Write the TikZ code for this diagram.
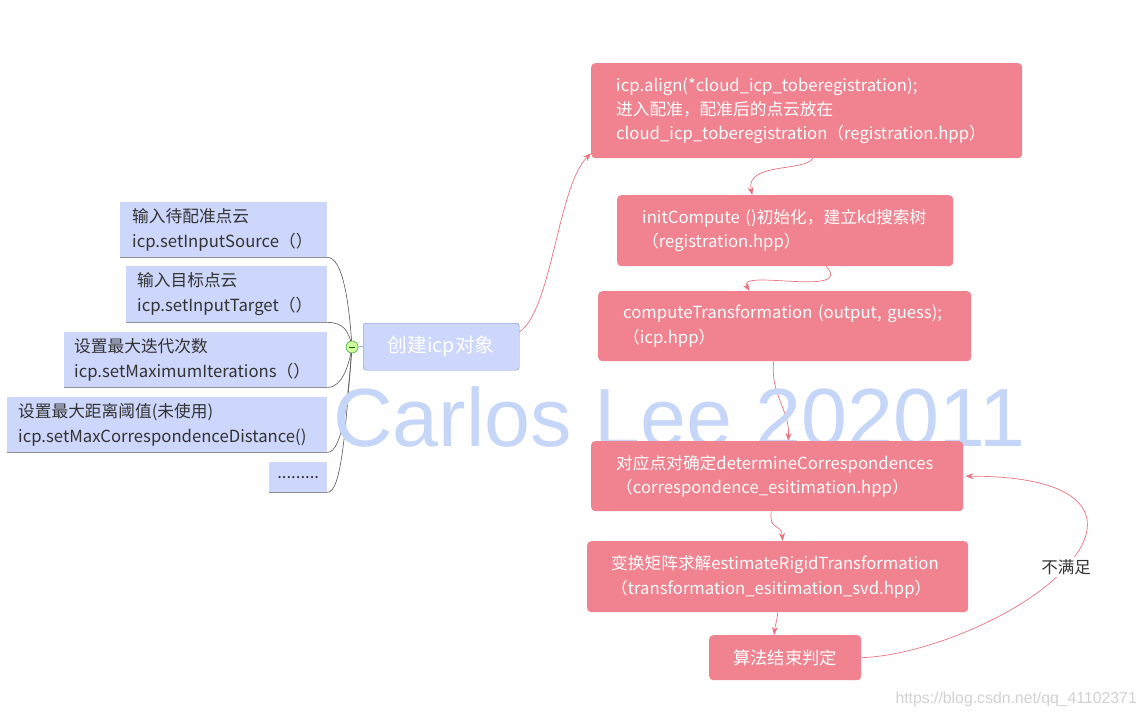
\documentclass[tikz,border=0pt]{standalone}
\usepackage{fontspec}
\setmainfont{Noto Sans CJK SC}
\newfontfamily\wmfont{Liberation Sans}
\usetikzlibrary{arrows.meta,backgrounds,calc}
\definecolor{bluebox}{HTML}{CDD6FB}
\definecolor{pinkbox}{HTML}{F0838F}
\definecolor{pinkline}{HTML}{E8737F}
\definecolor{wmblue}{HTML}{C6D6F8}
\definecolor{rootborder}{HTML}{7D8FD0}
\definecolor{grayline}{HTML}{555555}
\tikzset{
  lbox/.style={fill=bluebox, anchor=north west, inner ysep=0pt, align=left,
    font=\fontsize{16.7}{24.5}\selectfont, text=black!80},
  pbox/.style={fill=pinkbox, rounded corners=4pt, anchor=north west, inner ysep=0pt,
    align=left, text=white, font=\fontsize{16.7}{24.3}\selectfont},
  gline/.style={draw=grayline, line width=0.6pt},
  pline/.style={draw=pinkline, line width=0.7pt, -{Stealth[length=8pt,width=6pt]}},
}
\begin{document}
\begin{tikzpicture}[x=1pt,y=-1pt]
\useasboundingbox (0,0) rectangle (1143,717);
% watermark
\node[anchor=base west, inner sep=0pt, text=wmblue, font=\wmfont\fontsize{82.6}{82.6}\selectfont] (wm) at (333,446) {Carlos Lee 202011};
\node[anchor=base east, inner sep=0pt, text=black!18, font=\wmfont\fontsize{15.8}{15.8}\selectfont] (url) at (1137,703) {https://blog.csdn.net/qq\_41102371};
% left boxes
\node[lbox, minimum width=207pt, minimum height=55pt, inner xsep=12pt, text width=183pt] (b1) at (120,202) {\mbox{输入待配准点云}\\\mbox{icp.setInputSource（）}};
\node[lbox, minimum width=201pt, minimum height=56pt, inner xsep=11pt, text width=179pt] (b2) at (126,266) {\mbox{输入目标点云}\\\mbox{icp.setInputTarget（）}};
\node[lbox, minimum width=263pt, minimum height=55pt, inner xsep=10pt, text width=243pt] (b3) at (64,332) {\mbox{设置最大迭代次数}\\\mbox{icp.setMaximumIterations（）}};
\node[lbox, minimum width=320pt, minimum height=55pt, inner xsep=11pt, text width=298pt] (b4) at (7,397) {\mbox{设置最大距离阈值(未使用)}\\\mbox{icp.setMaxCorrespondenceDistance()}};
\node[lbox, minimum width=58pt, minimum height=30pt, inner xsep=0pt, align=center] (b5) at (269,462) {.........};
% root
\node[fill=bluebox, draw=rootborder, rounded corners=3pt, minimum width=156pt, minimum height=47pt, anchor=north west, text=white, font=\fontsize{19.7}{19.7}\selectfont] (root) at (363,323) {创建icp对象};
\node[circle, fill=green!25!lime!40, draw=green!55!black!70, line width=0.6pt, minimum size=12pt, inner sep=0pt] (c) at (352,347) {};
\draw[green!40!black, line width=0.8pt] ($(c.center)+(-3,0)$) -- ($(c.center)+(3,0)$);
% pink boxes
\node[pbox, minimum width=431pt, minimum height=95pt, inner xsep=25pt, text width=381pt] (p1) at (591,63) {\mbox{icp.align(*cloud\_icp\_toberegistration);}\\\mbox{进入配准，配准后的点云放在}\\\mbox{cloud\_icp\_toberegistration（registration.hpp）}};
\node[pbox, minimum width=336pt, minimum height=71pt, inner xsep=25pt, text width=286pt] (p2) at (617,195) {\mbox{initCompute ()初始化，建立kd搜索树}\\\mbox{（registration.hpp）}};
\node[pbox, minimum width=373pt, minimum height=70pt, inner xsep=25pt, text width=323pt] (p3) at (598,291) {\mbox{computeTransformation (output, guess);}\\\mbox{（icp.hpp）}};
\node[pbox, minimum width=372pt, minimum height=70pt, inner xsep=25pt, text width=322pt] (p4) at (591,441) {\mbox{对应点对确定determineCorrespondences}\\\mbox{（correspondence\_esitimation.hpp）}};
\node[pbox, minimum width=381pt, minimum height=71pt, inner xsep=24pt, text width=333pt] (p5) at (587,541) {\mbox{变换矩阵求解estimateRigidTransformation}\\\mbox{（transformation\_esitimation\_svd.hpp）}};
\node[pbox, minimum width=152pt, minimum height=45pt, align=center, font=\fontsize{17.3}{17.3}\selectfont] (p6) at (709,635) {算法结束判定};
\node[fill=white, inner sep=2pt, text=black!80, font=\fontsize{16.5}{16.5}\selectfont] (lbl) at (1066,567) {不满足};
\begin{pgfonlayer}{background}
\draw[gline] (b1.south west) -- (b1.south east) .. controls +(15,0) and (349,300) .. (c.center);
\draw[gline] (b2.south west) -- (b2.south east) .. controls +(15,0) and (349,330) .. (c.center);
\draw[gline] (b3.south west) -- (b3.south east) .. controls +(15,0) and (349,365) .. (c.center);
\draw[gline] (b4.south west) -- (b4.south east) .. controls +(15,0) and (348,400) .. (c.center);
\draw[gline] (b5.south west) -- (b5.south east) .. controls +(15,0) and (346,420) .. (c.center);
\draw[gline, draw=rootborder] (c.center) -- (root.west);
\draw[pline] ($(root.north east)+(0,9)$) .. controls (552,310) and (558,185) .. ($(p1.south west)+(0,-5)$);
\draw[pline] ($(p1.south)+(6,0)$) .. controls (805,172) and (745,162) .. ($(p2.north)+(-33,0)$);
\draw[pline] ($(p2.south)+(41,0)$) .. controls (855,298) and (735,268) .. ($(p3.north)+(-35,0)$);
\draw[pline] ($(p3.south)+(-11,0)$) .. controls (770,395) and (790,410) .. ($(p4.north)+(11,0)$);
\draw[pline] ($(p4.south)+(-6,0)$) .. controls (769,532) and (781,522) .. ($(p5.north)+(5,0)$);
\draw[pline] ($(p5.south)+(0,0)$) .. controls (777,622) and (775,625) .. ($(p6.north)+(-11,0)$);
\draw[pline] (p6.east) .. controls (930,655) and (1030,610) .. (lbl.center) .. controls (1110,520) and (1090,476) .. ($(p4.east)+(2,0)$);
\end{pgfonlayer}
\end{tikzpicture}
\end{document}
